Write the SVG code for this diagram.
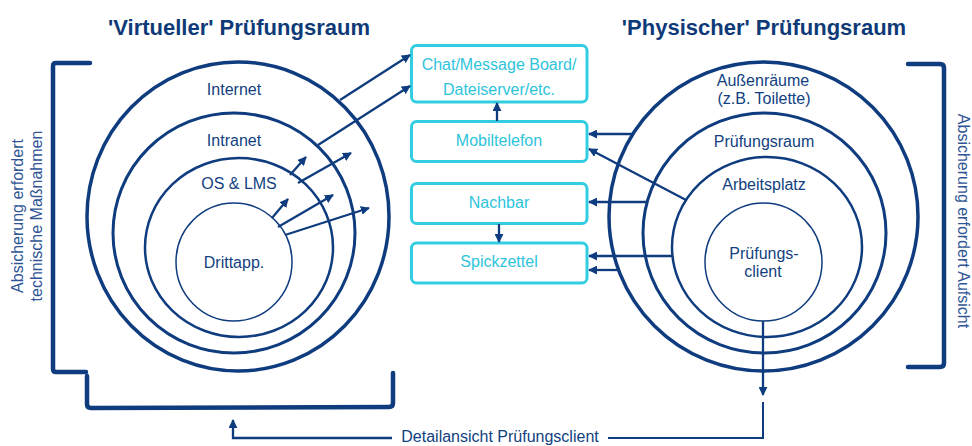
<svg xmlns="http://www.w3.org/2000/svg" width="972" height="446" viewBox="0 0 972 446">
  <style>
    .t{font-family:"Liberation Sans",Arial,sans-serif;font-size:16px;fill:#123f7f;text-anchor:middle}
    .title{font-family:"Liberation Sans",Arial,sans-serif;font-size:22px;font-weight:bold;fill:#0f3a78;text-anchor:middle}
    .side{font-family:"Liberation Sans",Arial,sans-serif;font-size:16px;fill:#2f5596;text-anchor:middle}
    .bt{font-family:"Liberation Sans",Arial,sans-serif;font-size:16px;fill:#2ec4dc;text-anchor:middle}
    .box{fill:#fff;stroke:#33cde1;stroke-width:3}
    .ring{fill:none;stroke:#0f3c7e}
    .br{fill:none;stroke:#0f3c7e;stroke-width:4.5;stroke-linecap:round;stroke-linejoin:round}
    .c{fill:none;stroke:#0f3c7e;stroke-width:2.3;marker-end:url(#ah)}
    .l{fill:none;stroke:#0f3c7e;stroke-width:2}
  </style>
  <defs>
    <marker id="ah" viewBox="0 0 10 10" refX="9" refY="5" markerWidth="9" markerHeight="9" markerUnits="userSpaceOnUse" orient="auto">
      <path d="M0,0 L10,5 L0,10 z" fill="#0f3c7e"/>
    </marker>
  </defs>
  <rect width="972" height="446" fill="#fff"/>

  <text class="title" x="239" y="35">'Virtueller' Prüfungsraum</text>
  <text class="title" x="764" y="35">'Physischer' Prüfungsraum</text>

  <g id="virtual">
    <ellipse class="ring" cx="238" cy="216.5" rx="151" ry="154.5" stroke-width="3.5"/>
    <ellipse class="ring" cx="234" cy="233" rx="121" ry="120" stroke-width="3"/>
    <ellipse class="ring" cx="239" cy="247.5" rx="94" ry="89.5" stroke-width="2.5"/>
    <ellipse class="ring" cx="234" cy="262" rx="58" ry="59" stroke-width="1.5"/>
    <text class="t" x="234" y="95">Internet</text>
    <text class="t" x="234" y="146">Intranet</text>
    <text class="t" x="239" y="189">OS &amp; LMS</text>
    <text class="t" x="234" y="268">Drittapp.</text>
  </g>

  <g id="physical">
    <ellipse class="ring" cx="763.5" cy="216.5" rx="154.5" ry="154.5" stroke-width="3.5"/>
    <ellipse class="ring" cx="764.5" cy="233" rx="121.5" ry="120" stroke-width="3"/>
    <ellipse class="ring" cx="767" cy="247" rx="95" ry="90" stroke-width="2.5"/>
    <ellipse class="ring" cx="763.5" cy="262" rx="58.5" ry="59" stroke-width="1.5"/>
    <text class="t" x="763" y="86">Außenräume</text>
    <text class="t" x="764" y="104">(z.B. Toilette)</text>
    <text class="t" x="764" y="147">Prüfungsraum</text>
    <text class="t" x="764" y="190">Arbeitsplatz</text>
    <text class="t" x="764" y="259">Prüfungs-</text>
    <text class="t" x="763" y="277">client</text>
  </g>

  <g id="chat">
    <rect class="box" x="411.5" y="45.5" width="175.5" height="56.5" rx="5"/>
    <text class="bt" x="499" y="70">Chat/Message Board/</text>
    <text class="bt" x="499" y="95">Dateiserver/etc.</text>
  </g>
  <g id="mobil">
    <rect class="box" x="411.5" y="121.5" width="175.5" height="40" rx="5"/>
    <text class="bt" x="499" y="146">Mobiltelefon</text>
  </g>
  <g id="nachbar">
    <rect class="box" x="411.5" y="183.5" width="175.5" height="40" rx="5"/>
    <text class="bt" x="499" y="208">Nachbar</text>
  </g>
  <g id="spick">
    <rect class="box" x="411.5" y="243" width="175.5" height="40" rx="5"/>
    <text class="bt" x="499" y="267">Spickzettel</text>
  </g>

  <g id="brackets">
    <path class="br" d="M90,63 L56,63 Q53,63 53,66 L53,369 Q53,372 56,372 L86,372"/>
    <path class="br" d="M87,376 L87,404 Q87,408 91,408 L389,407 Q393,407 393,403 L393,373"/>
    <path class="br" d="M908,64 L940,64 Q944,64 944,68 L944,363 Q944,367 940,367 L908,367"/>
    <text class="side" transform="translate(23,216) rotate(-90)">Absicherung erfordert</text>
    <text class="side" transform="translate(42,216) rotate(-90)">technische Maßnahmen</text>
    <text class="side" transform="translate(958,221) rotate(90)">Absicherung erfordert Aufsicht</text>
  </g>

  <g id="connectors">
    <path class="c" d="M340,100 L410,55"/>
    <path class="c" d="M318,145 L410,86"/>
    <path class="c" d="M290,175 L306,157"/>
    <path class="c" d="M298,183 L351,153"/>
    <path class="c" d="M272,218 L288,199"/>
    <path class="c" d="M278,227 L333,195"/>
    <path class="c" d="M285,235 L369,208"/>
    <path class="c" d="M497,121 L497,103"/>
    <path class="c" d="M499,224 L499,242"/>
    <path class="c" d="M633,134 L589,134"/>
    <path class="c" d="M686,200 L589,149"/>
    <path class="c" d="M647,202 L589,202"/>
    <path class="c" d="M673,256 L589,256"/>
    <path class="c" d="M620,270 L589,270"/>
    <path class="c" d="M763,321 L763,395"/>
    <path class="l" d="M763,402 L763,438 L608,438"/>
    <path class="c" d="M392,438 L233,438 L233,420"/>
    <text class="t" x="500" y="442">Detailansicht Prüfungsclient</text>
  </g>
</svg>
